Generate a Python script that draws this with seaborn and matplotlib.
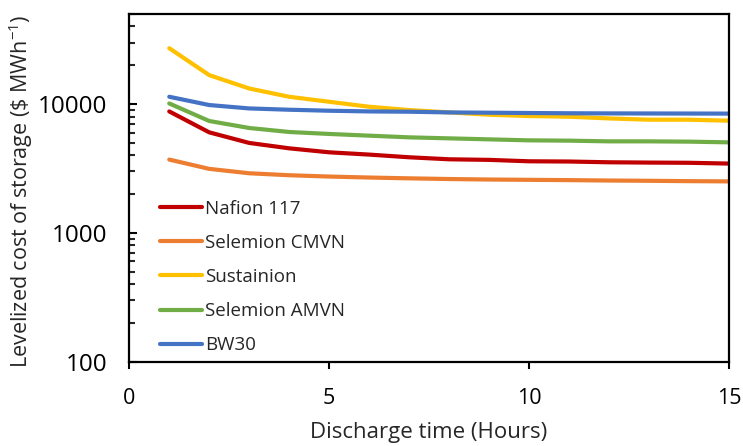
import numpy as np
import pandas as pd
import seaborn as sns
import matplotlib.pyplot as plt
from matplotlib.ticker import LogLocator, FixedLocator, NullFormatter

# discharge time (hours)
hours = list(range(1, 16))

# levelized cost of storage ($/MWh)
nafion_117 = [8765, 6030, 4990, 4533, 4221, 4052, 3862, 3726, 3687, 3595,
              3580, 3532, 3513, 3500, 3451]
selemion_cmvn = [3706, 3140, 2902, 2802, 2737, 2689, 2651, 2618, 2595, 2581,
                 2567, 2549, 2537, 2521, 2510]
sustainion = [27130, 16770, 13205, 11390, 10420, 9530, 8985, 8610, 8265, 8075,
              7975, 7735, 7560, 7560, 7425]
selemion_amvn = [10107, 7387, 6520, 6070, 5860, 5685, 5515, 5417, 5320, 5227,
                 5198, 5134, 5134, 5107, 5044]
bw30 = [11390, 9825, 9247, 9035, 8875, 8765, 8720, 8610, 8565, 8520,
        8480, 8460, 8450, 8440, 8430]

membranes = ["Nafion 117", "Selemion CMVN", "Sustainion", "Selemion AMVN", "BW30"]
colors = ["#C00000", "#ED7D31", "#FFC000", "#70AD47", "#4472C4"]

series = [nafion_117, selemion_cmvn, sustainion, selemion_amvn, bw30]
df = pd.concat(
    [pd.DataFrame({"hours": hours, "cost": vals, "membrane": name})
     for name, vals in zip(membranes, series)],
    ignore_index=True,
)

sns.set_style("white")
plt.rcParams["font.family"] = ["Open Sans", "DejaVu Sans"]
plt.rcParams["mathtext.fontset"] = "custom"
plt.rcParams["mathtext.rm"] = "Open Sans"
plt.rcParams["mathtext.it"] = "Open Sans"

fig = plt.figure(figsize=(7.43, 4.46), dpi=100)
ax = fig.add_axes([0.174, 0.189, 0.807, 0.7796])

sns.lineplot(data=df, x="hours", y="cost", hue="membrane", hue_order=membranes,
             palette=dict(zip(membranes, colors)), linewidth=3, ax=ax)

ax.set_yscale("log")
ax.set_xlim(0, 15)
ax.set_ylim(100, 50000)
ax.xaxis.set_major_locator(FixedLocator([0, 5, 10, 15]))
ax.yaxis.set_major_locator(FixedLocator([100, 1000, 10000]))
ax.yaxis.set_major_formatter(plt.FuncFormatter(lambda v, p: f"{int(v)}"))
ax.yaxis.set_minor_locator(LogLocator(base=10, subs=np.arange(2, 10)))
ax.yaxis.set_minor_formatter(NullFormatter())

for side in ["left", "right", "top", "bottom"]:
    ax.spines[side].set_color("black")
    ax.spines[side].set_linewidth(1.6)

ax.tick_params(axis="x", which="major", direction="out", length=5, width=1.5,
               pad=14, labelsize=15.5, colors="black", bottom=True)
ax.tick_params(axis="y", which="major", direction="in", length=6, width=1.5,
               pad=16, labelsize=17.5, colors="black", left=True)
ax.tick_params(axis="y", which="minor", direction="in", length=4.5, width=1.5,
               left=True)

ax.set_xlabel("Discharge time (Hours)", fontsize=16, color="#262626")
ax.set_ylabel(r"Levelized cost of storage (\$ MWh$^{-1}$)", fontsize=15.5,
              color="#262626")
ax.xaxis.set_label_coords(0.5, -0.174)
ax.yaxis.set_label_coords(-0.157, 0.49)

ax.legend(loc="lower left", bbox_to_anchor=(0.023, -0.027), frameon=False,
          fontsize=13.5, handlelength=2.25, handletextpad=0.15,
          labelspacing=0.86)

fig.savefig("out.png", dpi=100)
